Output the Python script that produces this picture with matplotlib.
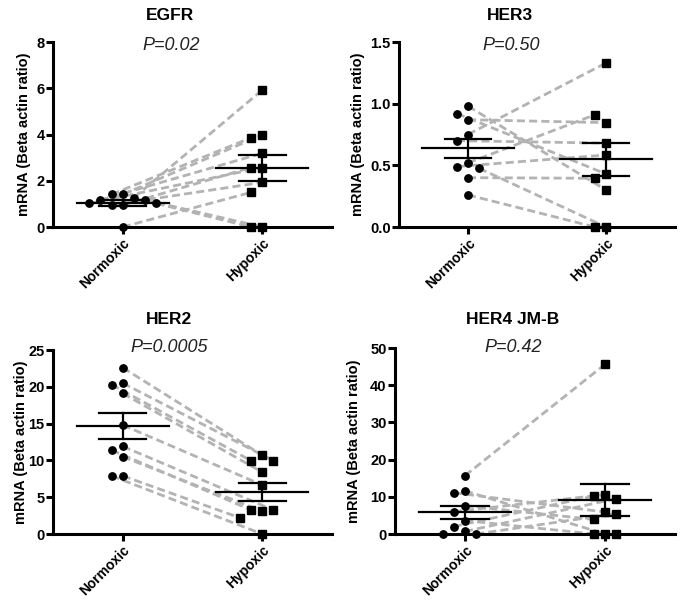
# paired normoxic / hypoxic mRNA levels, four receptors
import numpy as np
import matplotlib
matplotlib.use("Agg")
import matplotlib.pyplot as plt

plt.rcParams['font.family'] = ['Liberation Sans', 'DejaVu Sans']

groups = ["Normoxic", "Hypoxic"]
ylabel = "mRNA (Beta actin ratio)"

# each index i is one pair (normoxic[i] -> hypoxic[i])
egfr_norm = [1.41, 1.41, 1.27, 1.17, 1.17, 1.02, 1.02, 0.95, 0.95, 0.0]
egfr_hyp = [3.98, 3.86, 5.92, 3.19, 0.0, 2.57, 0.0, 2.57, 1.93, 1.50]
egfr_ticks = [0, 2, 4, 6, 8]
egfr_ticklabels = ["0", "2", "4", "6", "8"]

her3_norm = [0.98, 0.92, 0.87, 0.75, 0.70, 0.52, 0.49, 0.476, 0.40, 0.26]
her3_hyp = [0.30, 0.43, 0.846, 1.33, 0.68, 0.91, 0.584, 0.0, 0.395, 0.0]
her3_ticks = [0, 0.5, 1.0, 1.5]
her3_ticklabels = ["0.0", "0.5", "1.0", "1.5"]

her2_norm = [22.6, 19.1, 20.3, 20.5, 14.8, 10.5, 11.4, 11.9, 7.9, 7.9]
her2_hyp = [10.7, 8.4, 9.96, 9.96, 6.66, 3.1, 3.26, 3.26, 2.2, 0.0]
her2_ticks = [0, 5, 10, 15, 20, 25]
her2_ticklabels = ["0", "5", "10", "15", "20", "25"]

her4_norm = [15.7, 11.6, 11.1, 7.6, 6.0, 3.6, 2.0, 0.7, 0.0, 0.0]
her4_hyp = [45.6, 0.0, 5.9, 3.9, 10.6, 0.0, 10.2, 9.5, 5.5, 0.0]
her4_ticks = [0, 10, 20, 30, 40, 50]
her4_ticklabels = ["0", "10", "20", "30", "40", "50"]

panels = [
    # name, p text, norm, hyp, ticks, ticklabels,
    # axes rect (px), title xy (px), p xy (px), ylabel right edge offset (px)
    ("EGFR", "P=0.02", egfr_norm, egfr_hyp, egfr_ticks, egfr_ticklabels,
     (53, 42, 279, 185), (170, 15), (171, 45), 22),
    ("HER3", "P=0.50", her3_norm, her3_hyp, her3_ticks, her3_ticklabels,
     (399, 42, 276, 185), (510, 15), (511, 45), 34),
    ("HER2", "P=0.0005", her2_norm, her2_hyp, her2_ticks, her2_ticklabels,
     (53, 350, 279, 184), (169, 320), (169, 348), 25),
    ("HER4 JM-B", "P=0.42", her4_norm, her4_hyp, her4_ticks, her4_ticklabels,
     (395, 348, 280, 186), (513, 320), (513, 348), 34),
]

W, H = 685, 600
STEP = 0.08


def swarm(vals, ymax, px_w, px_h, thr=10.0):
    # spread overlapping points sideways, prism style
    placed = []
    offs = []
    px_x = px_w / 2.0
    px_y = px_h / ymax
    cands = [0.0]
    for k in range(1, 8):
        cands += [-k * STEP, k * STEP]
    for v in vals:
        for c in cands:
            ok = True
            for o, w in placed:
                if np.hypot((c - o) * px_x, (v - w) * px_y) < thr:
                    ok = False
                    break
            if ok:
                break
        placed.append((c, v))
        offs.append(c)
    return np.array(offs)


fig = plt.figure(figsize=(W / 100, H / 100), dpi=100)

for name, ptxt, norm, hyp, ticks, tlabels, rect, tpos, ppos, lab_off in panels:
    l, t, w, h = rect
    ax = fig.add_axes([l / W, 1 - (t + h) / H, w / W, h / H])
    ymax = ticks[-1]
    norm = np.array(norm)
    hyp = np.array(hyp)

    xn = 0 + swarm(norm, ymax, w, h)
    xh = 1 + swarm(hyp, ymax, w, h)

    for i in range(len(norm)):
        ax.plot([xn[i], xh[i]], [norm[i], hyp[i]], color='#b3b3b3', lw=2.0,
                dashes=(2.9, 1.5), zorder=1, clip_on=False)

    ax.plot(xn, norm, 'o', color='black', ms=5.3, zorder=2, clip_on=False)
    ax.plot(xh, hyp, 's', color='black', ms=5.3, zorder=2, clip_on=False)

    # mean +/- SEM
    for x0, d in [(0, norm), (1, hyp)]:
        m = d.mean()
        sem = d.std(ddof=1) / np.sqrt(len(d))
        ax.plot([x0 - 0.33, x0 + 0.33], [m, m], color='black', lw=1.6, zorder=4)
        ax.plot([x0 - 0.17, x0 + 0.17], [m + sem, m + sem], color='black', lw=1.6, zorder=4)
        ax.plot([x0 - 0.17, x0 + 0.17], [m - sem, m - sem], color='black', lw=1.6, zorder=4)
        ax.plot([x0, x0], [m - sem, m + sem], color='black', lw=1.6, zorder=4)

    ax.set_xlim(-0.5, 1.5)
    ax.set_ylim(0, ymax)
    ax.set_yticks(ticks)
    ax.set_yticklabels(tlabels, fontsize=10.5, fontweight='bold')
    ax.set_xticks([0, 1])
    ax.set_xticklabels(groups, fontsize=10, fontweight='bold', rotation=45,
                       ha='right', rotation_mode='anchor')
    ax.tick_params(width=2.2, length=5, pad=1.0)
    ax.tick_params(axis='x', pad=1.5)

    for s in ['top', 'right']:
        ax.spines[s].set_visible(False)
    for s in ['left', 'bottom']:
        ax.spines[s].set_linewidth(2.2)
    ax.set_ylabel(ylabel, fontsize=10.5, fontweight='bold')
    ax.yaxis.set_label_coords(-lab_off / w, 0.5)

    fig.text(tpos[0] / W, 1 - tpos[1] / H, name, fontsize=12.5, fontweight='bold',
             ha='center', va='center')
    fig.text(ppos[0] / W, 1 - ppos[1] / H, ptxt, fontsize=13, style='italic',
             color='#222222', ha='center', va='center')

fig.savefig("out.png", dpi=100)
